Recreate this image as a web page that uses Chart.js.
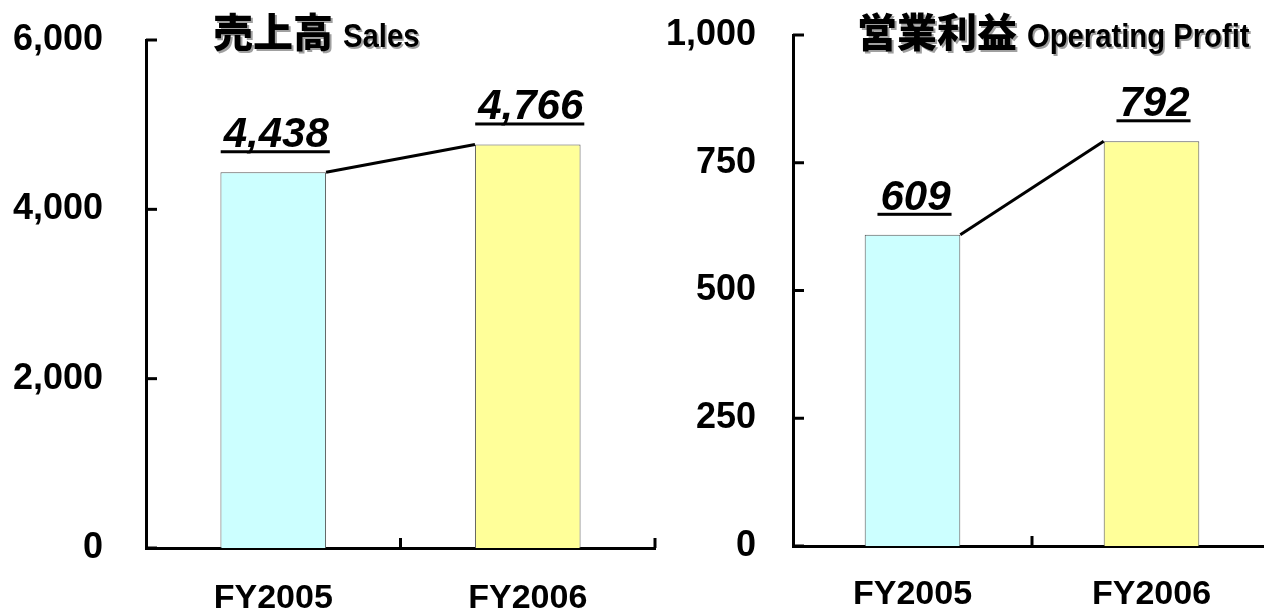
<!DOCTYPE html>
<html>
<head>
<meta charset="utf-8">
<script src="https://cdn.jsdelivr.net/npm/chart.js@4.4.0/dist/chart.umd.min.js"></script>
<style>
    html, body { margin: 0; padding: 0; background: #fff; width: 1264px; height: 611px; overflow: hidden; position: relative; }
    canvas { position: absolute; top: 0; }
    #salesCanvas { left: 0; }
    #profitCanvas { left: 660px; }
    .title { position: absolute; top: 10px; white-space: nowrap; color: #000; line-height: 40px; text-shadow: 2px 2px 0 #a0a0a0; }
    .title .jp { font-family: "Noto Sans CJK JP"; font-weight: 900; font-size: 40px; vertical-align: baseline; }
    .title .en { display: inline-block; font-family: "Liberation Sans", sans-serif; font-weight: bold; font-size: 34px; margin-left: 10px; transform: scaleX(0.86); transform-origin: left bottom; }
</style>
</head>
<body>
<canvas id="salesCanvas" width="660" height="611"></canvas>
<canvas id="profitCanvas" width="620" height="611"></canvas>
<div class="title" style="left:213px"><span class="jp">売上高</span><span class="en">Sales</span></div>
<div class="title" style="left:857px"><span class="jp">営業利益</span><span class="en">Operating Profit</span></div>
<script>
// データ
const categories = ['FY2005', 'FY2006'];
const salesValues = [4438, 4766];
const profitValues = [609, 792];
const salesTicks = [0, 2000, 4000, 6000];
const profitTicks = [0, 250, 500, 750, 1000];
const barColors = ['#CCFFFF', '#FFFF99'];

// 棒の上の数値・系列線・内向き目盛
const barDecor = {
    id: 'barDecor',
    afterDraw(chart) {
        const ctx = chart.ctx;
        const bars = chart.getDatasetMeta(0).data;
        const values = chart.data.datasets[0].data;
        const xScale = chart.scales.x;
        const yScale = chart.scales.y;
        ctx.save();

        // 系列線
        ctx.strokeStyle = '#000';
        ctx.lineWidth = 3;
        for (let i = 0; i < bars.length - 1; i++) {
            const a = bars[i];
            const b = bars[i + 1];
            ctx.beginPath();
            ctx.moveTo(a.x + a.width / 2, a.y);
            ctx.lineTo(b.x - b.width / 2, b.y);
            ctx.stroke();
        }

        // 数値ラベル（斜体・下線）
        ctx.fillStyle = '#000';
        ctx.font = 'italic bold 42px "Liberation Sans"';
        ctx.textAlign = 'center';
        ctx.textBaseline = 'alphabetic';
        bars.forEach((bar, i) => {
            const text = values[i].toLocaleString('en-US');
            const w = ctx.measureText(text).width;
            const y = bar.y - 25;
            ctx.fillText(text, bar.x + 3, y);
            ctx.fillRect(bar.x + 3 - w / 2 - 3, y + 3, w + 4, 3);
        });

        // Y軸の目盛（内向き）
        ctx.lineWidth = 3;
        yScale.ticks.forEach(t => {
            const py = yScale.getPixelForValue(t.value);
            ctx.beginPath();
            ctx.moveTo(yScale.right, py);
            ctx.lineTo(yScale.right + 11, py);
            ctx.stroke();
        });

        // X軸の目盛（区切り、上向き）
        const step = (xScale.right - xScale.left) / categories.length;
        for (let k = 1; k <= categories.length; k++) {
            const px = xScale.left + step * k;
            ctx.beginPath();
            ctx.moveTo(px, xScale.top);
            ctx.lineTo(px, xScale.top - 10);
            ctx.stroke();
        }
        ctx.restore();
    }
};

function makeChart(canvasId, values, tickValues, cfg) {
    const ctx = document.getElementById(canvasId).getContext('2d');
    return new Chart(ctx, {
        type: 'bar',
        data: {
            labels: categories,
            datasets: [{
                data: values,
                backgroundColor: barColors,
                borderColor: '#555',
                borderWidth: 1,
                categoryPercentage: 1,
                barPercentage: cfg.barPct
            }]
        },
        options: {
            responsive: false,
            animation: false,
            layout: { padding: { top: cfg.top, right: cfg.right, left: 0, bottom: 0 } },
            plugins: {
                legend: { display: false },
                tooltip: { enabled: false }
            },
            scales: {
                x: {
                    offset: true,
                    z: 1,
                    grid: { display: false, drawTicks: false },
                    border: { color: '#000', width: 3 },
                    ticks: {
                        color: '#000',
                        padding: cfg.xPad,
                        font: { family: 'Liberation Sans', weight: 'bold', size: 34 }
                    },
                    afterFit(scale) {
                        scale.height = cfg.xHeight;
                        scale.paddingLeft = 0;
                        scale.paddingRight = 0;
                    }
                },
                y: {
                    min: tickValues[0],
                    max: tickValues[tickValues.length - 1],
                    z: 1,
                    grid: { display: false, drawTicks: false },
                    border: { color: '#000', width: 3 },
                    afterBuildTicks(scale) {
                        scale.ticks = tickValues.map(v => ({ value: v }));
                    },
                    ticks: {
                        color: '#000',
                        padding: cfg.yPad,
                        font: { family: 'Liberation Sans', weight: 'bold', size: 36 },
                        callback: v => v.toLocaleString('en-US')
                    },
                    afterFit(scale) {
                        scale.width = cfg.yWidth;
                        scale.paddingTop = 0;
                        scale.paddingBottom = 0;
                    }
                }
            }
        },
        plugins: [barDecor]
    });
}

makeChart('salesCanvas', salesValues, salesTicks, {
    top: 40, right: 5, yWidth: 146, xHeight: 63, yPad: 43, xPad: 30, barPct: 0.415
});
makeChart('profitCanvas', profitValues, profitTicks, {
    top: 35, right: 9, yWidth: 133, xHeight: 65, yPad: 37, xPad: 28, barPct: 0.4
});
</script>
</body>
</html>
